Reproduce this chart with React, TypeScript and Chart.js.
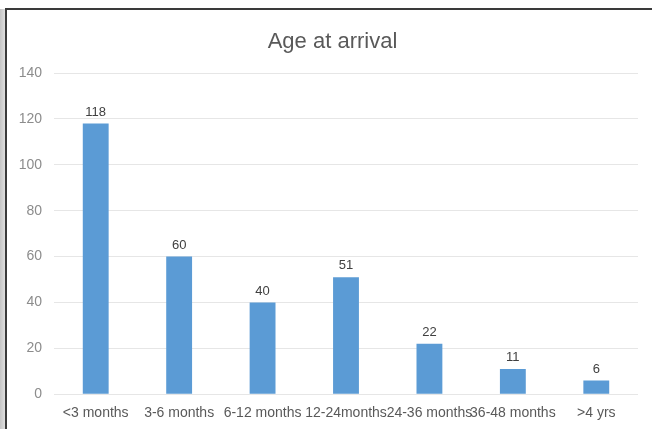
import React, { useEffect, useRef } from "react";
import { Chart, registerables } from "chart.js";

Chart.register(...registerables);

const categories = ["<3 months", "3-6 months", "6-12 months", "12-24months", "24-36 months", "36-48 months", ">4 yrs"];
const arrivals = [118, 60, 40, 51, 22, 11, 6];
const yTicks = [0, 20, 40, 60, 80, 100, 120, 140];
const chartTitle = "Age at arrival";

const FONT = "'Liberation Sans', Arial, sans-serif";

// Writes each bar's value just above it.
const valueLabels = {
  id: "valueLabels",
  afterDatasetsDraw(chart: any) {
    const { ctx } = chart;
    const meta = chart.getDatasetMeta(0);
    const data = chart.data.datasets[0].data as number[];
    ctx.save();
    ctx.font = `13px ${FONT}`;
    ctx.fillStyle = "#404040";
    ctx.textAlign = "center";
    ctx.textBaseline = "bottom";
    meta.data.forEach((bar: any, i: number) => {
      ctx.fillText(String(data[i]), bar.x, bar.y - 5);
    });
    ctx.restore();
  },
};

// Title centred on the whole canvas width, in the space kept free by the top padding.
const centredTitle = {
  id: "centredTitle",
  afterDraw(chart: any) {
    const { ctx, width } = chart;
    ctx.save();
    ctx.font = `22px ${FONT}`;
    ctx.fillStyle = "#595959";
    ctx.textAlign = "center";
    ctx.textBaseline = "middle";
    ctx.fillText(chartTitle, width / 2 + 3, 32);
    ctx.restore();
  },
};

export default function App() {
  const canvasRef = useRef<HTMLCanvasElement>(null);

  useEffect(() => {
    if (!canvasRef.current) return;
    const chart = new Chart(canvasRef.current, {
      type: "bar",
      data: {
        labels: categories,
        datasets: [
          {
            label: chartTitle,
            data: arrivals,
            backgroundColor: "#5b9bd5",
            borderWidth: 0,
            categoryPercentage: 1,
            barPercentage: 0.31,
          },
        ],
      },
      options: {
        responsive: false,
        animation: false,
        layout: { padding: { left: 0, right: 14, top: 63, bottom: 4 } },
        plugins: {
          legend: { display: false },
          tooltip: { enabled: false },
          title: { display: false },
        },
        scales: {
          x: {
            grid: { display: false },
            border: { display: false },
            ticks: {
              color: "#595959",
              font: { family: FONT, size: 14 },
              maxRotation: 0,
              minRotation: 0,
              autoSkip: false,
              padding: 3,
            },
          },
          y: {
            min: 0,
            max: 140,
            afterFit(scale: any) {
              scale.width = 47;
            },
            afterBuildTicks(scale: any) {
              scale.ticks = yTicks.map((v) => ({ value: v }));
            },
            grid: { color: "#e6e6e6", drawTicks: false, lineWidth: 1 },
            border: { display: false },
            ticks: {
              color: "#8c8c8c",
              font: { family: FONT, size: 14 },
              padding: 12,
            },
          },
        },
      },
      plugins: [valueLabels, centredTitle],
    });
    return () => chart.destroy();
  }, []);

  return (
    <div style={{ position: "fixed", left: 0, top: 0, width: 652, height: 429, background: "#fff", overflow: "hidden" }}>
      <div
        style={{
          position: "absolute",
          left: 0,
          top: 9,
          width: 5,
          height: 420,
          background: "linear-gradient(to right, #c4c4c4, #dedede)",
        }}
      />
      <div style={{ position: "absolute", left: 5, top: 8, width: 2, height: 421, background: "#3a3a3a" }} />
      <div style={{ position: "absolute", left: 5, top: 8, width: 647, height: 2, background: "#3a3a3a" }} />
      <canvas
        ref={canvasRef}
        width={645}
        height={419}
        style={{ position: "absolute", left: 7, top: 10, width: 645, height: 419 }}
      />
    </div>
  );
}
